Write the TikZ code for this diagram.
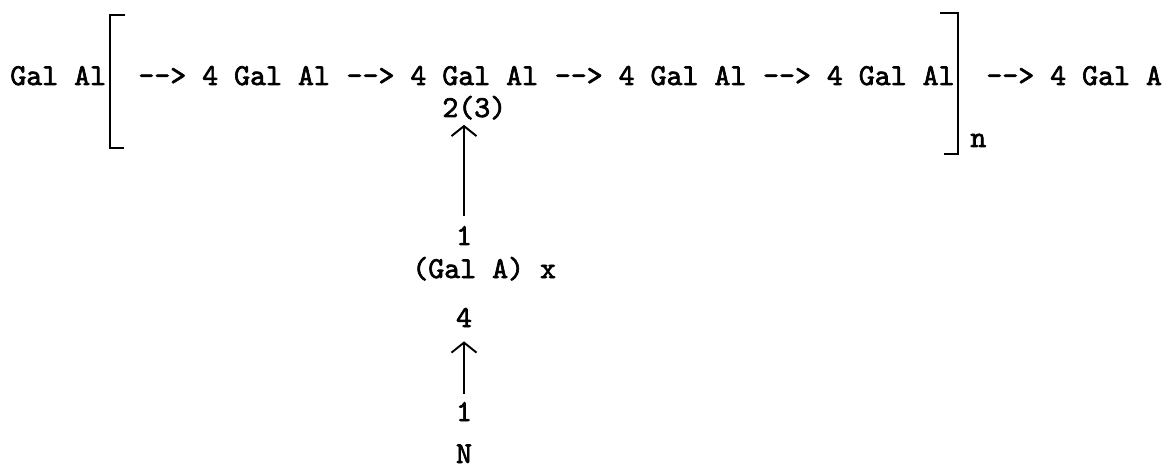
\documentclass[tikz,border=0pt]{standalone}
\usepackage{fontspec}
\usepackage{tikz}
\usetikzlibrary{arrows.meta,positioning}
\newfontfamily\twfont{lmmono10-regular.otf}[FakeBold=2.2]
\newcommand\arw{-{}-{}>}
\tikzset{tt/.style={font=\fontsize{17.3}{20}\selectfont\twfont,inner sep=0pt,anchor=base west},up/.style={-{Straight Barb[length=2mm,width=5mm]},line width=1.1pt},brk/.style={line width=1.4pt}}
\begin{document}
\begin{tikzpicture}[x=0.2mm,y=-0.2mm]
\useasboundingbox (0,0) rectangle (1165,470);
% main chain
\node[tt] (g0) at (10,85) {Gal Al};
\node[tt] (u1) at (138,85) {\arw{} 4 Gal Al};
\node[tt,base right=3.2mm of u1] (u2) {\arw{} 4 Gal Al};
\node[tt,base right=3.2mm of u2] (u3) {\arw{} 4 Gal Al};
\node[tt,base right=3.2mm of u3] (u4) {\arw{} 4 Gal Al};
\node[tt] (u5) at (986,85) {\arw{} 4 Gal A};
\node[tt] (rep) at (970,147) {n};
\draw[brk] (125,15) -- (110,15) -- (110,148) -- (124,148);
\draw[brk] (940,13) -- (958,13) -- (958,154) -- (944,154);
% side branch
\node[tt] (two3) at (442,117) {2(3)};
\node[tt,anchor=base] (one1) at (464,245) {1};
\node[tt] (gala) at (412,278) {(Gal A) x};
\node[tt,anchor=base] (four) at (464,327) {4};
\node[tt,anchor=base] (one2) at (464,421) {1};
\node[tt,anchor=base] (nn) at (464,463) {N};
\draw[up,shorten <=2mm,shorten >=1mm] (one1.north) -- (one1 |- two3.south);
\draw[up,shorten <=1.6mm,shorten >=2.8mm] (one2.north) -- (one2 |- four.south);
\end{tikzpicture}
\end{document}
